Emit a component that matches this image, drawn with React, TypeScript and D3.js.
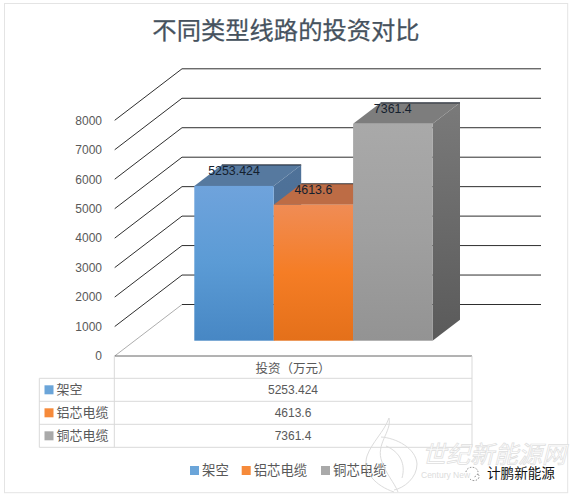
import React from "react";
import * as d3 from "d3";

const titleText = "不同类型线路的投资对比";
const categories = ["架空", "铝芯电缆", "铜芯电缆"];
const seriesValues = [5253.424, 4613.6, 7361.4];
const valueLabels = ["5253.424", "4613.6", "7361.4"];
const tickValues = [0, 1000, 2000, 3000, 4000, 5000, 6000, 7000, 8000];
const tableHeader = "投资（万元）";
const faceTop = ["#6fa3dc", "#f08c55", "#a9a9a9"];
const faceMid = ["#5b9bd5", "#f57d25", "#a0a0a0"];
const faceBottom = ["#4787c4", "#e4701a", "#939393"];
const roofColors = ["#56799f", "#bd6c45", "#7d7d7d"];
const sideTop = ["#4f7299", "", "#7a7a7a"];
const sideBottom = ["#466a92", "", "#5a5a5a"];

const W = 573;
const H = 497;
const CJK = "'Noto Sans CJK SC', sans-serif";
const LATIN = "'Liberation Sans', sans-serif";
const depthX = 67.3;
const depthY = -51.5;
const barDx = 27.5;
const barDy = -21;
const baseOffset = -15.3;

const y = d3.scaleLinear().domain([0, 8000]).range([356, 120.3]);
const band = d3.scaleBand<number>().domain([0, 1, 2]).range([194.3, 432.5]).padding(0);
const line = d3.line();
const pts = (p: [number, number][]) => line(p)! + "Z";

export default function App() {
  const floor = y(0);
  const leftX = 114.7;
  const backRight = 541;
  const tableRows = [356, 378.3, 401.3, 424.3, 447.3];
  const legendXs = [190, 241.7, 321];
  return (
    <svg
      width={W}
      height={H}
      viewBox={`0 0 ${W} ${H}`}
      style={{ position: "absolute", left: 0, top: 0, background: "#fff" }}
    >
      <defs>
        {categories.map((_, i) => (
          <linearGradient key={i} id={`face${i}`} x1="0" y1="0" x2="0" y2="1">
            <stop offset="0" stopColor={faceTop[i]} />
            <stop offset="0.5" stopColor={faceMid[i]} />
            <stop offset="1" stopColor={faceBottom[i]} />
          </linearGradient>
        ))}
        {categories.map((_, i) => (
          <linearGradient key={i} id={`side${i}`} x1="0" y1="0" x2="0" y2="1">
            <stop offset="0" stopColor={sideTop[i] || "#999"} />
            <stop offset="1" stopColor={sideBottom[i] || "#999"} />
          </linearGradient>
        ))}
      </defs>
      <rect x={4.5} y={3.5} width={563.2} height={489.2} fill="#fff" stroke="#e4e4e4" />

      <text
        x={286}
        y={39}
        textAnchor="middle"
        fontFamily={CJK}
        fontSize={24.3}
        fill="#46525e"
        stroke="#46525e"
        strokeWidth={0.25}
      >
        {titleText}
      </text>

      {tickValues.map((t) => (
        <g key={t}>
          <text
            x={102}
            y={y(t) + 4.3}
            textAnchor="end"
            fontFamily={LATIN}
            fontSize={12}
            fill="#595959"
          >
            {t}
          </text>
          <line
            x1={leftX}
            y1={y(t)}
            x2={leftX + depthX}
            y2={y(t) + depthY}
            stroke={t === 0 ? "#8a8a8a" : "#2e2e2e"}
            strokeWidth={t === 0 ? 0.7 : 1}
          />
          <line
            x1={leftX + depthX}
            y1={y(t) + depthY}
            x2={backRight}
            y2={y(t) + depthY}
            stroke="#2e2e2e"
            strokeWidth={1}
          />
        </g>
      ))}
      <line x1={leftX} y1={floor} x2={472} y2={floor} stroke="#666" strokeWidth={1} />

      {seriesValues.map((v, i) => {
        const x0 = band(i)!;
        const x1 = x0 + band.bandwidth();
        const base = y(0) + baseOffset;
        const top = y(v) + baseOffset;
        return (
          <g key={i}>
            <path
              d={pts([
                [x1, top],
                [x1 + barDx, top + barDy],
                [x1 + barDx, base + barDy],
                [x1, base],
              ])}
              fill={`url(#side${i})`}
            />
            <path
              d={pts([
                [x0, top],
                [x0 + barDx, top + barDy],
                [x1 + barDx, top + barDy],
                [x1, top],
              ])}
              fill={roofColors[i]}
            />
            <line
              x1={x0 + barDx}
              y1={top + barDy}
              x2={x1 + barDx}
              y2={top + barDy}
              stroke="#1c2430"
              strokeWidth={1.2}
              opacity={0.85}
            />
            <rect x={x0} y={top} width={x1 - x0} height={base - top} fill={`url(#face${i})`} />
          </g>
        );
      })}

      {seriesValues.map((v, i) => (
        <text
          key={i}
          x={band(i)! + band.bandwidth() / 2}
          y={y(v) + baseOffset + barDy + 10.5}
          textAnchor="middle"
          fontFamily={LATIN}
          fontSize={12.4}
          fill="#14202e"
        >
          {valueLabels[i]}
        </text>
      ))}

      {tableRows.slice(1).map((ry) => (
        <line key={ry} x1={39.3} y1={ry} x2={472} y2={ry} stroke="#d9d9d9" />
      ))}
      <line x1={39.3} y1={378.3} x2={39.3} y2={447.3} stroke="#d9d9d9" />
      <line x1={114.3} y1={356} x2={114.3} y2={447.3} stroke="#d9d9d9" />
      <line x1={472} y1={356} x2={472} y2={447.3} stroke="#d9d9d9" />
      <text
        x={293}
        y={373}
        textAnchor="middle"
        fontFamily={CJK}
        fontSize={12.5}
        fill="#595959"
      >
        {tableHeader}
      </text>
      {categories.map((c, i) => {
        const cy = (tableRows[i + 1] + tableRows[i + 2]) / 2;
        return (
          <g key={c}>
            <rect x={44.5} y={cy - 4.5} width={9} height={9} fill={faceMid[i]} opacity={0.9} />
            <text x={56.5} y={cy + 4.6} fontFamily={CJK} fontSize={13} fill="#595959">
              {c}
            </text>
            <text
              x={293}
              y={cy + 4.4}
              textAnchor="middle"
              fontFamily={LATIN}
              fontSize={12}
              fill="#595959"
            >
              {valueLabels[i]}
            </text>
          </g>
        );
      })}

      {categories.map((c, i) => (
        <g key={c}>
          <rect x={legendXs[i]} y={466} width={9} height={9} fill={faceMid[i]} opacity={0.9} />
          <text x={legendXs[i] + 12} y={474.8} fontFamily={CJK} fontSize={13.4} fill="#595959">
            {c}
          </text>
        </g>
      ))}

      <g fill="none" stroke="#dcdcdc" strokeWidth={1}>
        <path d="M389 418C384 432 372 442 367 456C362 472 376 486 394 492" />
        <path d="M389 418C392 432 375 444 382 462C386 474 394 482 398 492" />
        <path d="M381 437C396 438 416 448 417 464C417 478 404 488 394 490" />
        <path d="M386 446C400 452 406 464 402 478" />
      </g>
      <text
        x={422}
        y={463}
        fontFamily={CJK}
        fontSize={24}
        fontStyle="italic"
        fill="#fff"
        stroke="#dedede"
        strokeWidth={0.7}
      >
        世纪新能源网
      </text>
      <text x={421} y={478} fontFamily={LATIN} fontSize={8.5} fill="#dcdcdc">
        Century New
      </text>
      <path
        d="M466 472a6 5 0 1 1 8 5M470 479a5 4 0 1 0 8-5"
        fill="none"
        stroke="#666"
        strokeWidth={0.8}
        strokeDasharray="1.5 1.5"
      />
      <text
        x={487}
        y={478}
        fontFamily={CJK}
        fontSize={13.6}
        fill="#111"
        stroke="#fff"
        strokeWidth={2}
        paintOrder="stroke"
      >
        计鹏新能源
      </text>
    </svg>
  );
}
